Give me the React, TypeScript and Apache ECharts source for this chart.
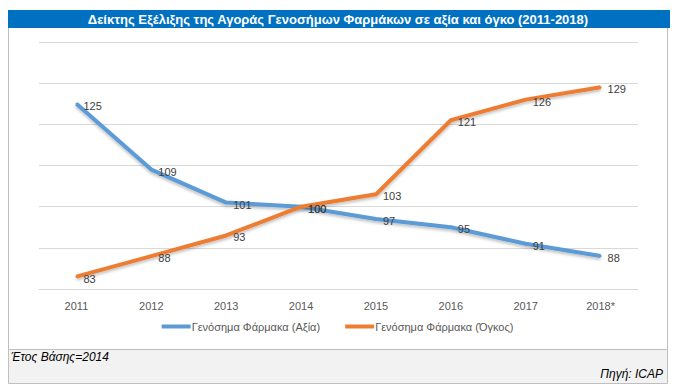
import React, { useEffect, useRef } from "react";
import * as echarts from "echarts";

const years = ["2011", "2012", "2013", "2014", "2015", "2016", "2017", "2018*"];
const valueSeries = [125, 109, 101, 100, 97, 95, 91, 88];
const volumeSeries = [83, 88, 93, 100, 103, 121, 126, 129];
const seriesNames = ["Γενόσημα Φάρμακα (Αξία)", "Γενόσημα Φάρμακα (Όγκος)"];
const titleText = "Δείκτης Εξέλιξης της Αγοράς Γενοσήμων Φαρμάκων σε αξία και όγκο (2011-2018)";
const baseNote = "Έτος Βάσης=2014";
const sourceNote = "Πηγή: ICAP";

const FONT = "'Liberation Sans', 'DejaVu Sans', sans-serif";

export default function App() {
  const ref = useRef<HTMLDivElement>(null);
  useEffect(() => {
    if (!ref.current) return;
    const chart = echarts.init(ref.current, undefined, { renderer: "svg" });
    const lineSeries = (name: string, data: number[], color: string) => ({
      name,
      type: "line",
      data,
      symbol: "circle",
      symbolSize: 2,
      showSymbol: true,
      lineStyle: {
        width: 4,
        color,
        shadowColor: "rgba(0,0,0,0.25)",
        shadowBlur: 3,
        shadowOffsetY: 2,
      },
      itemStyle: { color },
      label: {
        show: true,
        position: "right",
        distance: 6,
        offset: [0, 2],
        color: "#404040",
        fontSize: 11,
        fontFamily: FONT,
      },
      z: 3,
    });
    chart.setOption({
      animation: false,
      backgroundColor: "#ffffff",
      grid: { left: 39, right: 37, top: 42, bottom: 100 },
      xAxis: {
        type: "category",
        data: years,
        boundaryGap: true,
        axisLine: { show: true, lineStyle: { color: "#D9D9D9", width: 1 } },
        axisTick: { show: false },
        axisLabel: { color: "#595959", fontSize: 11, fontFamily: FONT, margin: 11 },
      },
      yAxis: {
        type: "value",
        min: 80,
        max: 140,
        interval: 10,
        axisLine: { show: false },
        axisTick: { show: false },
        axisLabel: { show: false },
        splitLine: { lineStyle: { color: "#D9D9D9", width: 1 } },
      },
      legend: {
        data: seriesNames,
        top: 316,
        left: "center",
        itemWidth: 29,
        itemHeight: 4,
        itemGap: 25,
        icon: "rect",
        textStyle: { color: "#595959", fontSize: 11, fontFamily: FONT, padding: [0, 0, 0, -4] },
      },
      series: [
        lineSeries(seriesNames[0], valueSeries, "#5B9BD5"),
        lineSeries(seriesNames[1], volumeSeries, "#ED7D31"),
      ],
      graphic: [
        {
          type: "rect",
          shape: { x: 8.5, y: 10.5, width: 659, height: 373 },
          style: { fill: "none", stroke: "#BFBFBF", lineWidth: 1 },
          z: 0,
        },
        {
          type: "rect",
          shape: { x: 9, y: 349, width: 658, height: 34 },
          style: { fill: "#F2F2F2", stroke: "none" },
          z: 0,
        },
        {
          type: "line",
          shape: { x1: 8, y1: 349.5, x2: 668, y2: 349.5 },
          style: { stroke: "#BFBFBF", lineWidth: 1 },
          z: 1,
        },
        {
          type: "rect",
          shape: { x: 8, y: 10, width: 662, height: 18 },
          style: { fill: "#0070C0", stroke: "none" },
          z: 2,
        },
        {
          type: "text",
          x: 338,
          y: 19,
          style: {
            text: titleText,
            fill: "#ffffff",
            font: `bold 13px ${FONT}`,
            align: "center",
            verticalAlign: "middle",
          },
          z: 3,
        },
        {
          type: "text",
          x: 11,
          y: 357,
          style: {
            text: baseNote,
            fill: "#000000",
            font: `italic 12px ${FONT}`,
            align: "left",
            verticalAlign: "middle",
          },
          z: 3,
        },
        {
          type: "text",
          x: 663,
          y: 374,
          style: {
            text: sourceNote,
            fill: "#000000",
            font: `italic 12px ${FONT}`,
            align: "right",
            verticalAlign: "middle",
          },
          z: 3,
        },
      ],
    });
    return () => chart.dispose();
  }, []);
  return (
    <div
      ref={ref}
      style={{ position: "fixed", left: 0, top: 0, width: 675, height: 389 }}
    />
  );
}
